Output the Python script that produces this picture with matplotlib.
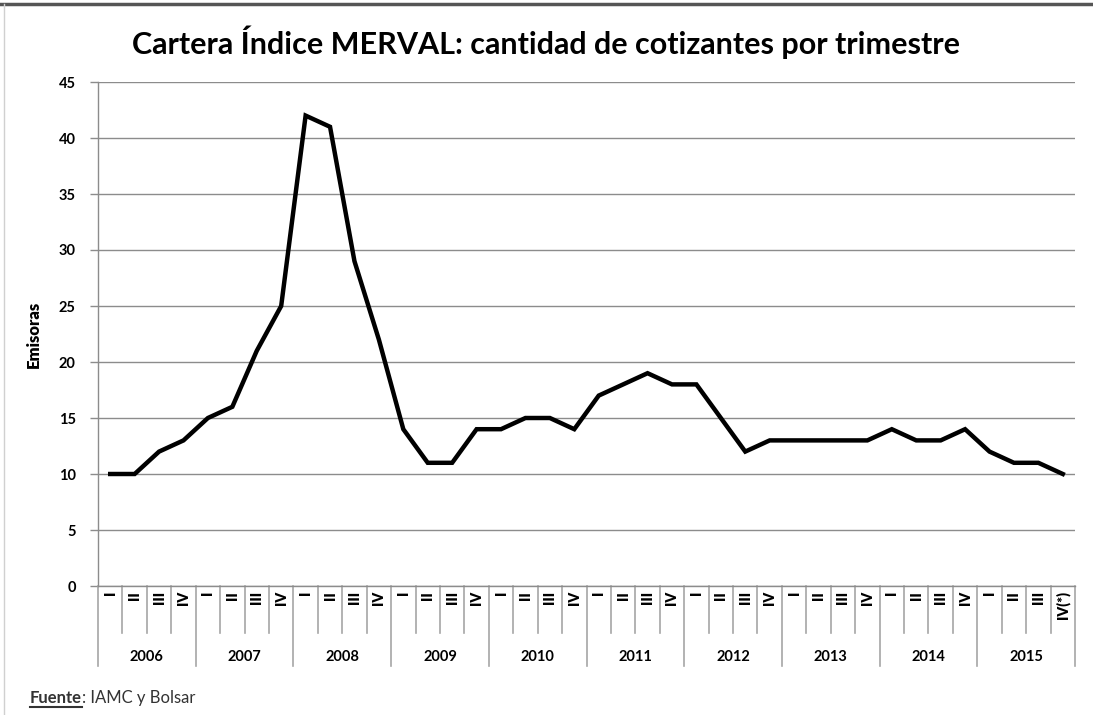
import matplotlib
matplotlib.use("Agg")
import matplotlib.pyplot as plt
from matplotlib.lines import Line2D
import matplotlib.transforms as mtransforms

plt.rcParams['font.family'] = ['Lato', 'DejaVu Sans']

# Data (quarterly counts of companies in the MERVAL basket)
years = ["2006", "2007", "2008", "2009", "2010", "2011", "2012", "2013", "2014", "2015"]
quarters = ["I", "II", "III", "IV"]
last_quarter_label = "IV(*)"
emisoras = [
    10, 10, 12, 13,   # 2006
    15, 16, 21, 25,   # 2007
    42, 41, 29, 22,   # 2008
    14, 11, 11, 14,   # 2009
    14, 15, 15, 14,   # 2010
    17, 18, 19, 18,   # 2011
    18, 15, 12, 13,   # 2012
    13, 13, 13, 13,   # 2013
    14, 13, 13, 14,   # 2014
    12, 11, 11, 10,   # 2015
]

W, H = 1093, 715
fig = plt.figure(figsize=(W / 100, H / 100), dpi=100)
ax = fig.add_axes([98 / W, (H - 586) / H, (1075 - 98) / W, (586 - 82) / H])

n = len(emisoras)
x = list(range(n))
ax.plot(x, emisoras, color="black", lw=3.2, solid_joinstyle="miter", zorder=3)

ax.set_xlim(-0.5, n - 0.5)
ax.set_ylim(0, 45)
ax.set_yticks(range(0, 46, 5))
ax.yaxis.grid(True, color="#8c8c8c", lw=1)
ax.set_axisbelow(True)
for s in ["top", "right"]:
    ax.spines[s].set_visible(False)
ax.spines["left"].set_color("#8c8c8c")
ax.spines["bottom"].set_color("#8c8c8c")
ax.spines["left"].set_linewidth(1)
ax.spines["bottom"].set_linewidth(1)
ax.tick_params(axis="y", length=6, width=1, color="#8c8c8c", labelsize=10.5, pad=10)
for lab in ax.get_yticklabels():
    lab.set_fontweight("bold")
ax.set_xticks([])
ax.tick_params(axis="x", length=0)

# category axis: quarter labels and year groups
trans = mtransforms.blended_transform_factory(ax.transData, ax.transAxes)
grey = "#a6a6a6"
for i in range(n):
    lbl = quarters[i % 4] if i < n - 1 else last_quarter_label
    ax.text(i, -0.010, lbl, transform=trans, rotation=90, ha="center", va="top",
            fontsize=10, fontweight="heavy")
for b in range(n + 1):
    y_end = -0.159 if b % 4 == 0 else -0.093
    ax.plot([b - 0.5, b - 0.5], [0, y_end], transform=trans, color=grey, lw=1.2,
            clip_on=False)
for k, yr in enumerate(years):
    ax.text(4 * k + 1.5, -0.141, yr, transform=trans, ha="center", va="center",
            fontsize=10.5, fontweight="bold")

ax.set_ylabel("Emisoras", fontsize=12, fontweight="heavy", labelpad=12)

fig.text(0.5, 1 - 42 / H, "Cartera Índice MERVAL: cantidad de cotizantes por trimestre",
         ha="center", va="center", fontsize=22, fontweight="bold")

# frame lines
fig.add_artist(Line2D([0, 1], [1 - 4 / H, 1 - 4 / H], color="#555555", lw=2.5))
fig.add_artist(Line2D([4 / W, 4 / W], [0, 1 - 4 / H], color="#d0d0d0", lw=1))

# source note with underlined "Fuente"
t1 = fig.text(30 / W, 1 - 703 / H, "Fuente", fontsize=12, fontweight="bold",
              color="#333333", va="baseline")
fig.canvas.draw()
bb = t1.get_window_extent()
fig.text(bb.x1 / W, 1 - 703 / H, ": IAMC y Bolsar", fontsize=12, color="#333333",
         va="baseline")
fig.add_artist(Line2D([bb.x0 / W, bb.x1 / W], [(bb.y0 - 0.5) / H] * 2,
                      color="#333333", lw=1.5))

fig.savefig("out.png", dpi=100)
